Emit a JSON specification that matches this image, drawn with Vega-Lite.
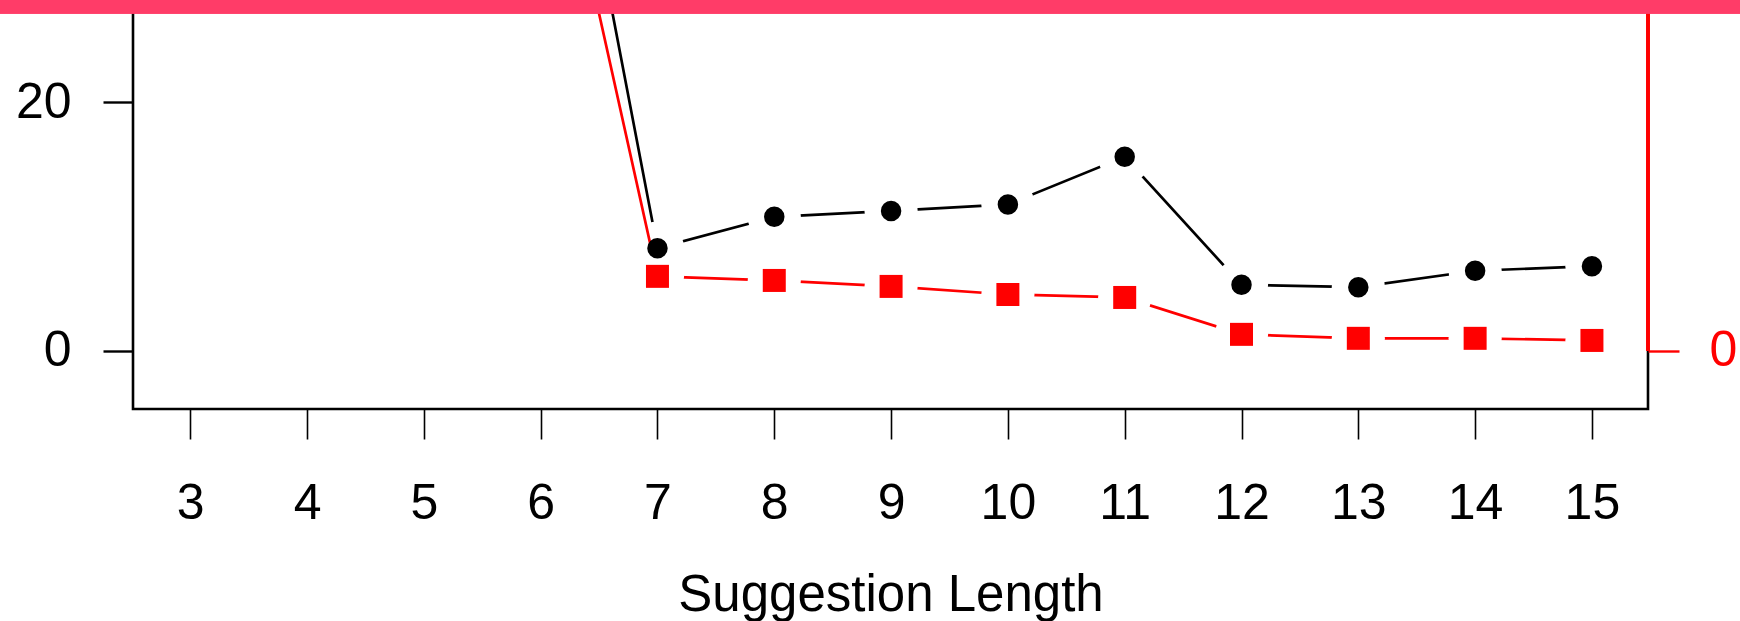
{
  "$schema": "https://vega.github.io/schema/vega-lite/v6.json",
  "width": 1515,
  "height": 409,
  "autosize": "none",
  "padding": {"left": 133, "right": 92, "top": 0, "bottom": 212},
  "background": "white",
  "config": {
    "font": "Liberation Sans",
    "view": {"stroke": "black", "strokeWidth": 2.6},
    "axis": {
      "grid": false,
      "domain": false,
      "labelFont": "Liberation Sans",
      "titleFont": "Liberation Sans",
      "labelFontSize": 50,
      "titleFontSize": 51,
      "titleFontWeight": "normal",
      "labelColor": "black",
      "titleColor": "black",
      "tickColor": "black",
      "labelOverlap": false,
      "labelFlush": false
    }
  },
  "data": {
    "values": [
      {"len": 6, "left": 57.4, "right": 48.3},
      {"len": 7, "left": 8.26, "right": 5.99},
      {"len": 8, "left": 10.78, "right": 5.66},
      {"len": 9, "left": 11.26, "right": 5.18},
      {"len": 10, "left": 11.78, "right": 4.53},
      {"len": 11, "left": 15.61, "right": 4.29},
      {"len": 12, "left": 5.31, "right": 1.32},
      {"len": 13, "left": 5.12, "right": 1.0},
      {"len": 14, "left": 6.44, "right": 1.0},
      {"len": 15, "left": 6.81, "right": 0.83}
    ]
  },
  "encoding": {
    "x": {
      "field": "len",
      "type": "quantitative",
      "scale": {"domain": [2.51, 15.48], "nice": false, "zero": false},
      "axis": {
        "values": [3, 4, 5, 6, 7, 8, 9, 10, 11, 12, 13, 14, 15],
        "tickSize": 30,
        "tickWidth": 1.6,
        "labelPadding": 39,
        "title": "Suggestion Length",
        "titlePadding": 42
      }
    }
  },
  "resolve": {"axis": {"y": "independent"}},
  "layer": [
    {
      "mark": {"type": "line", "color": "black", "strokeWidth": 2.7, "clip": true},
      "encoding": {
        "y": {"field": "left", "type": "quantitative", "scale": {"domain": [-4.69, 28.24], "nice": false, "zero": false}, "axis": null}
      }
    },
    {
      "mark": {"type": "point", "shape": "circle", "filled": true, "color": "white", "opacity": 1, "size": 2827, "strokeWidth": 0},
      "encoding": {
        "y": {"field": "left", "type": "quantitative", "scale": {"domain": [-4.69, 28.24], "nice": false, "zero": false}, "axis": null}
      }
    },
    {
      "mark": {"type": "line", "color": "red", "strokeWidth": 2.7, "clip": true},
      "encoding": {
        "y": {"field": "right", "type": "quantitative", "scale": {"domain": [-4.69, 28.24], "nice": false, "zero": false}, "axis": null}
      }
    },
    {
      "mark": {"type": "point", "shape": "circle", "filled": true, "color": "white", "opacity": 1, "size": 2827, "strokeWidth": 0},
      "encoding": {
        "y": {"field": "right", "type": "quantitative", "scale": {"domain": [-4.69, 28.24], "nice": false, "zero": false}, "axis": null}
      }
    },
    {
      "mark": {"type": "rule", "color": "black", "strokeWidth": 2.5, "strokeDash": [2.5, 10.2]},
      "encoding": {
        "y": {"datum": 0, "type": "quantitative", "scale": {"domain": [-4.69, 28.24], "nice": false, "zero": false}, "axis": null}
      }
    },
    {
      "mark": {"type": "point", "shape": "circle", "filled": true, "color": "black", "opacity": 1, "size": 420, "strokeWidth": 0},
      "encoding": {
        "y": {
          "field": "left",
          "type": "quantitative",
          "scale": {"domain": [-4.69, 28.24], "nice": false, "zero": false},
          "axis": {"orient": "left", "values": [0, 20], "tickSize": 30, "tickWidth": 2.4, "labelPadding": 32, "title": null}
        }
      }
    },
    {
      "mark": {"type": "point", "shape": "square", "filled": true, "color": "red", "opacity": 1, "size": 529, "strokeWidth": 0},
      "encoding": {
        "y": {
          "field": "right",
          "type": "quantitative",
          "scale": {"domain": [-4.69, 28.24], "nice": false, "zero": false},
          "axis": {"orient": "right", "values": [0], "tickSize": 31, "tickWidth": 2.4, "tickColor": "red", "labelColor": "red", "labelPadding": 30, "title": null}
        }
      }
    },
    {
      "mark": {"type": "rule", "color": "red", "strokeWidth": 2.6},
      "encoding": {
        "x": {"datum": 15.48, "type": "quantitative"},
        "y": {"datum": 0, "type": "quantitative", "scale": {"domain": [-4.69, 28.24], "nice": false, "zero": false}, "axis": null},
        "y2": {"datum": 28.24}
      }
    },
    {
      "mark": {"type": "rect", "color": "#FF3C68"},
      "encoding": {
        "x": {"datum": 1, "type": "quantitative"},
        "x2": {"datum": 17},
        "y": {"datum": 28.24, "type": "quantitative", "scale": {"domain": [-4.69, 28.24], "nice": false, "zero": false}, "axis": null},
        "y2": {"datum": 27.17}
      }
    }
  ]
}
